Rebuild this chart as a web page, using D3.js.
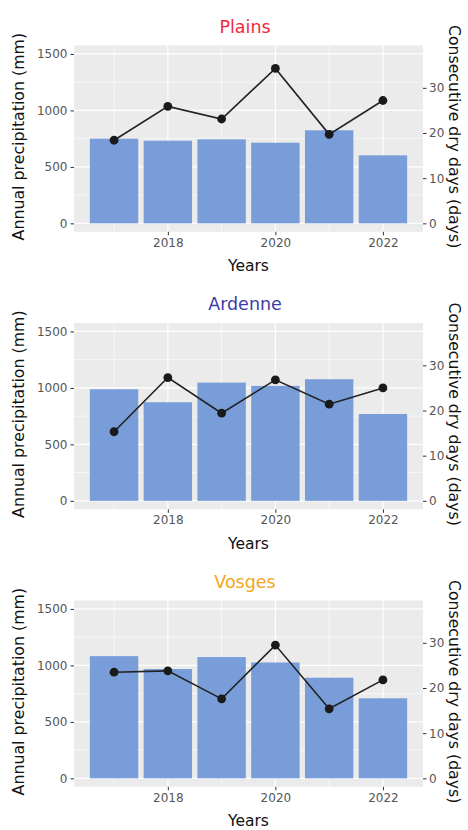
<!DOCTYPE html>
<html>
<head>
<meta charset="utf-8">
<script src="https://cdn.jsdelivr.net/npm/d3@7"></script>
<style>
  html, body { margin: 0; padding: 0; background: #fff; }
  svg { display: block; font-family: "DejaVu Sans", Verdana, sans-serif; }
</style>
</head>
<body>
<svg id="chart" width="468" height="830"></svg>
<script>
// ---- data ----
const years = [2017, 2018, 2019, 2020, 2021, 2022];
const regions = ["Plains", "Ardenne", "Vosges"];
const precipPlains  = [750, 732, 744, 714, 824, 602];
const precipArdenne = [988, 873, 1047, 1018, 1077, 769];
const precipVosges  = [1082, 968, 1074, 1026, 891, 709];
const dryPlains  = [18.4, 25.9, 23.1, 34.3, 19.7, 27.2];
const dryArdenne = [15.3, 27.3, 19.4, 26.8, 21.4, 25.0];
const dryVosges  = [23.5, 23.8, 17.6, 29.5, 15.4, 21.8];
const xTickLabels = [2018, 2020, 2022];
const leftTickLabels = [0, 500, 1000, 1500];
const rightTickLabels = [0, 10, 20, 30];
const dayToMm = 40; // secondary axis factor

const precip = [precipPlains, precipArdenne, precipVosges];
const dry = [dryPlains, dryArdenne, dryVosges];
const titleColors = ["#f02a3e", "#3d3aa8", "#f2a61c"];

// ---- layout ----
const svg = d3.select("#chart");
const left = 74, right = 423;
const panelH = 186.3, firstTop = 45.5, step = 277.5;
const barColor = "#789dd9";

const x = d3.scaleLinear().domain([2016.255, 2022.745]).range([left, right]);
const barW = x(2017.45) - x(2016.55);

regions.forEach((name, i) => {
  const top = firstTop + i * step;
  const bottom = top + panelH;
  const y = d3.scaleLinear().domain([-75, 1575]).range([bottom, top]);
  const y2 = d3.scaleLinear().domain([-75 / dayToMm, 1575 / dayToMm]).range([bottom, top]);
  const g = svg.append("g");

  // panel background
  g.append("rect").attr("x", left).attr("y", top)
    .attr("width", right - left).attr("height", panelH).attr("fill", "#ebebeb");

  // minor grid
  [250, 750, 1250].forEach(v => {
    g.append("line").attr("x1", left).attr("x2", right)
      .attr("y1", y(v)).attr("y2", y(v))
      .attr("stroke", "#fff").attr("stroke-width", 0.6);
  });
  [2017, 2019, 2021].forEach(v => {
    g.append("line").attr("x1", x(v)).attr("x2", x(v))
      .attr("y1", top).attr("y2", bottom)
      .attr("stroke", "#fff").attr("stroke-width", 0.6);
  });
  // major grid
  leftTickLabels.forEach(v => {
    g.append("line").attr("x1", left).attr("x2", right)
      .attr("y1", y(v)).attr("y2", y(v))
      .attr("stroke", "#fff").attr("stroke-width", 1.2);
  });
  xTickLabels.forEach(v => {
    g.append("line").attr("x1", x(v)).attr("x2", x(v))
      .attr("y1", top).attr("y2", bottom)
      .attr("stroke", "#fff").attr("stroke-width", 1.2);
  });

  // bars
  g.selectAll("rect.bar").data(years).enter().append("rect")
    .attr("class", "bar")
    .attr("x", d => x(d) - barW / 2)
    .attr("width", barW)
    .attr("y", (d, j) => y(precip[i][j]))
    .attr("height", (d, j) => y(0) - y(precip[i][j]))
    .attr("fill", barColor);

  // line
  const line = d3.line().x((d, j) => x(years[j])).y(d => y2(d));
  g.append("path").datum(dry[i]).attr("d", line)
    .attr("fill", "none").attr("stroke", "#222").attr("stroke-width", 1.6);
  g.selectAll("circle.pt").data(dry[i]).enter().append("circle")
    .attr("class", "pt")
    .attr("cx", (d, j) => x(years[j])).attr("cy", d => y2(d))
    .attr("r", 4.4).attr("fill", "#1a1a1a");

  // axes
  const styleAxis = sel => {
    sel.select(".domain").remove();
    sel.selectAll(".tick line").attr("stroke", "#333");
    sel.selectAll(".tick text").attr("fill", "#555")
      .style("font-size", "12px").style("font-family", "DejaVu Sans");
  };
  g.append("g").attr("transform", `translate(${left},0)`)
    .call(d3.axisLeft(y).tickValues(leftTickLabels).tickFormat(d3.format("d")).tickSize(3.5).tickPadding(3))
    .call(styleAxis);
  g.append("g").attr("transform", `translate(${right},0)`)
    .call(d3.axisRight(y2).tickValues(rightTickLabels).tickFormat(d3.format("d")).tickSize(3.5).tickPadding(2.5))
    .call(styleAxis);
  g.append("g").attr("transform", `translate(0,${bottom})`)
    .call(d3.axisBottom(x).tickValues(xTickLabels).tickFormat(d3.format("d")).tickSize(3.5).tickPadding(3))
    .call(styleAxis);

  // titles
  g.append("text").attr("x", 245).attr("y", top - 13)
    .attr("text-anchor", "middle").attr("fill", titleColors[i])
    .style("font-size", "17.5px").text(name);
  g.append("text").attr("x", (left + right) / 2).attr("y", bottom + 39.5)
    .attr("text-anchor", "middle").attr("fill", "#111")
    .style("font-size", "15.5px").text("Years");
  g.append("text")
    .attr("transform", `translate(24,${(top + bottom) / 2 - 2}) rotate(-90)`)
    .attr("text-anchor", "middle").attr("fill", "#111")
    .style("font-size", "15.8px").text("Annual precipitation (mm)");
  g.append("text")
    .attr("transform", `translate(448.5,${(top + bottom) / 2 - 2}) rotate(90)`)
    .attr("text-anchor", "middle").attr("fill", "#111")
    .style("font-size", "15.7px").text("Consecutive dry days (days)");
});
</script>
</body>
</html>
